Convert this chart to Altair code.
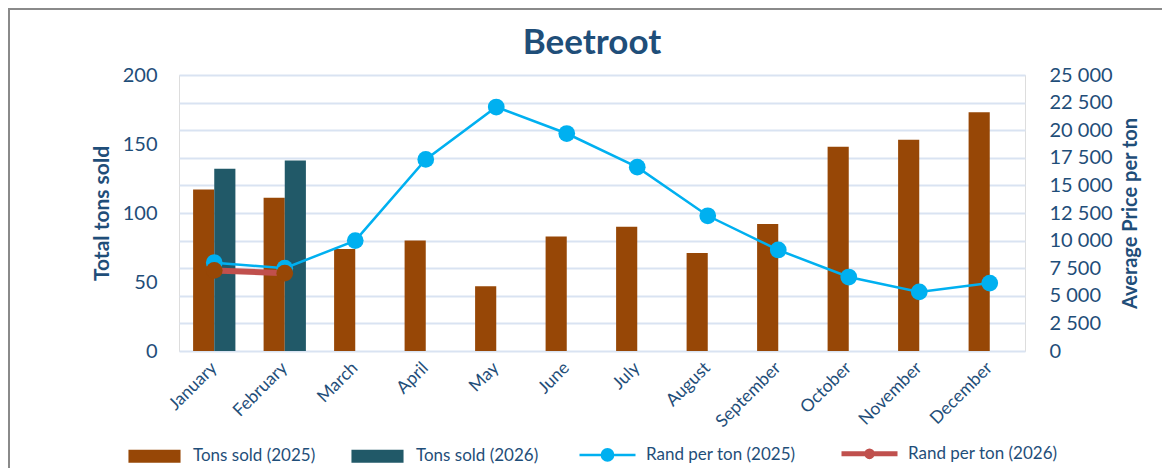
import altair as alt
import pandas as pd

months = ["January", "February", "March", "April", "May", "June", "July",
          "August", "September", "October", "November", "December"]
tons_2025 = [117, 111, 74, 80, 47, 83, 90, 71, 92, 148, 153, 173]
tons_2026 = [132, 138]
price_2025 = [8000, 7500, 10000, 17350, 22100, 19700, 16650, 12250, 9150, 6700, 5350, 6150]
price_2026 = [7300, 7050]
series = ["Tons sold (2025)", "Tons sold (2026)", "Rand per ton (2025)", "Rand per ton (2026)"]
fill_colors = ["#974706", "#215968", "#00B0F0", "#974706"]
stroke_colors = ["#974706", "#215968", "#00B0F0", "#C0504D"]
left_ticks = [0, 50, 100, 150, 200]
right_ticks = list(range(0, 25001, 2500))

TEXT = "#1F4E79"
FONT = "Lato"

bar_df = pd.DataFrame(
    [{"month": m, "series": series[0], "value": v} for m, v in zip(months, tons_2025)]
    + [{"month": m, "series": series[1], "value": v} for m, v in zip(months, tons_2026)]
)
p25 = pd.DataFrame({"month": months[:len(price_2025)], "price": price_2025})
p26 = pd.DataFrame({"month": months[:len(price_2026)], "price": price_2026})

rect_path = "M-0.93,-0.23H0.93V0.23H-0.93Z"
line_path = "M-1,0H1M-0.2,0A0.2,0.2,0,1,1,0.2,0A0.2,0.2,0,1,1,-0.2,0Z"
line_path_thick = "M-1,0H1M-0.1,0A0.1,0.1,0,1,1,0.1,0A0.1,0.1,0,1,1,-0.1,0Z"

def pick(vals, quote=True):
    q = (lambda v: f"'{v}'") if quote else (lambda v: str(v))
    expr = q(vals[-1])
    for s, v in reversed(list(zip(series[:-1], vals[:-1]))):
        expr = f"datum.value == '{s}' ? {q(v)} : " + expr
    return expr

legend = alt.Legend(
    orient="none", legendX=-33, legendY=370, direction="horizontal", columns=4,
    title=None, symbolSize=3136, labelOffset=30, columnPadding=35, padding=0,
    labelFont=FONT, labelFontSize=17, labelColor=TEXT, labelLimit=300,
    symbolType={"expr": pick([rect_path, rect_path, line_path, line_path_thick])},
    symbolStrokeWidth={"expr": pick([0, 0, 2.5, 5], quote=False)},
    symbolOpacity=1,
)

x_enc = alt.X(
    "month:N", sort=months, title=None,
    scale=alt.Scale(paddingInner=0.4, paddingOuter=0.2),
    axis=alt.Axis(labelAngle=-45, labelAlign="right", labelBaseline="middle",
                  labelFont=FONT, labelFontSize=17.5, labelColor=TEXT,
                  domain=False, ticks=False, labelPadding=14),
)

bars = alt.Chart(bar_df).mark_bar(strokeWidth=0).encode(
    x=x_enc,
    xOffset=alt.XOffset("series:N", scale=alt.Scale(domain=series[:2], paddingInner=0)),
    y=alt.Y("value:Q", scale=alt.Scale(domain=[0, 200]),
            axis=alt.Axis(values=left_ticks, grid=False, domain=False, ticks=False,
                          title="Total tons sold", titleFont=FONT, titleFontSize=21,
                          titleFontWeight="bold", titleColor=TEXT, titlePadding=10,
                          labelFont=FONT, labelFontSize=20, labelColor=TEXT, labelPadding=22)),
    fill=alt.Fill("series:N", scale=alt.Scale(domain=series, range=fill_colors), legend=legend),
    stroke=alt.Stroke("series:N", scale=alt.Scale(domain=series, range=stroke_colors), legend=legend),
)

line25 = alt.Chart(p25).mark_line(
    color="#00B0F0", strokeWidth=2.5,
    point=alt.OverlayMarkDef(filled=True, size=280, color="#00B0F0", opacity=1),
).encode(
    x=alt.X("month:N", sort=months),
    y=alt.Y("price:Q", scale=alt.Scale(domain=[0, 25000]),
            axis=alt.Axis(orient="right", values=right_ticks, grid=True, gridColor="#D9E3F2",
                          gridWidth=2, domain=False, ticks=False,
                          labelExpr="replace(format(datum.value, ','), ',', ' ')",
                          title="Average Price per ton", titleFont=FONT, titleFontSize=20,
                          titleFontWeight="bold", titleColor=TEXT, titleAngle=270,
                          titleBaseline="top", titlePadding=8,
                          labelFont=FONT, labelFontSize=20, labelColor=TEXT,
                          labelPadding=24)),
)

line26 = alt.Chart(p26).mark_line(
    color="#C0504D", strokeWidth=6,
    point=alt.OverlayMarkDef(filled=True, size=280, color="#974706", opacity=1),
).encode(
    x=alt.X("month:N", sort=months),
    y=alt.Y("price:Q", scale=alt.Scale(domain=[0, 25000]), axis=None),
)

frame = alt.Chart(pd.DataFrame({"a": [0]})).mark_rect(
    fillOpacity=0, stroke="#8A8A8A", strokeWidth=2
).encode(x=alt.value(-170), x2=alt.value(1300), y=alt.value(-66), y2=alt.value(700))

chart = alt.layer(frame, bars, line25, line26).resolve_scale(y="independent").properties(
    width=846, height=276,
    title=alt.TitleParams("Beetroot", font=FONT, fontSize=35, fontWeight="bold", color=TEXT,
                          anchor="middle", frame="group", baseline="alphabetic",
                          dx=-10, dy=95, offset=14),
    autosize=alt.AutoSizeParams(type="none"),
    padding={"left": 171, "top": 67, "right": 137, "bottom": 117},
).configure_view(stroke=None).configure(background="white")

chart.save("out.html", embed_options={"renderer": "svg", "actions": False})
